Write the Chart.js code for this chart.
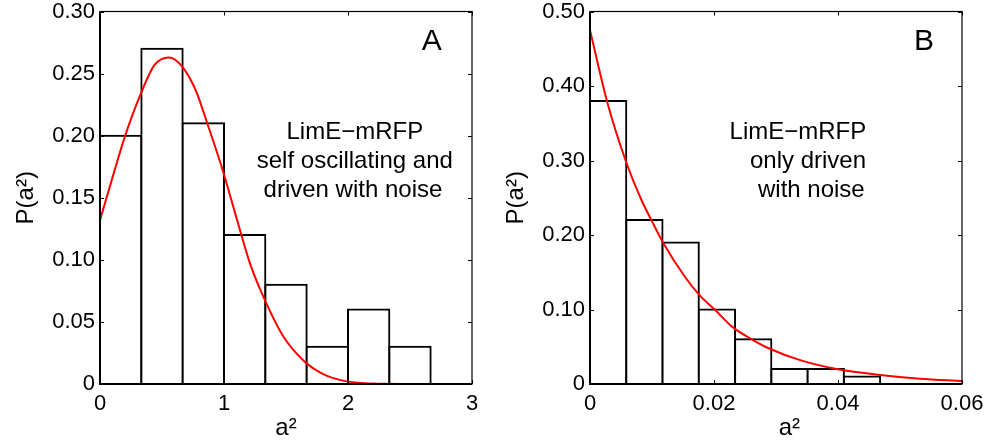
<!DOCTYPE html>
<html>
<head>
<meta charset="utf-8">
<title>P(a²) histograms</title>
<script src="https://cdn.jsdelivr.net/npm/chart.js@4.4.1/dist/chart.umd.min.js"></script>
<style>
  html, body { margin: 0; padding: 0; background: #fff; }
  #wrap { position: relative; width: 989px; height: 443px; overflow: hidden; }
  .panel { position: absolute; top: 0; height: 443px; }
  #panelA { left: 0; width: 494px; }
  #panelB { left: 494px; width: 495px; }
</style>
</head>
<body>
<div id="wrap">
  <div class="panel" id="panelA"><canvas id="chartA"></canvas></div>
  <div class="panel" id="panelB"><canvas id="chartB"></canvas></div>
</div>
<script>
/******************* DATA : PANEL A *******************/
const binCentersA = [0.1667, 0.5, 0.8333, 1.1667, 1.5, 1.8333, 2.1667, 2.5];
const histA = [0.20, 0.27, 0.21, 0.12, 0.08, 0.03, 0.06, 0.03];
const fitXA = [0, 0.1, 0.2, 0.33, 0.44, 0.556, 0.66, 0.77, 0.865, 0.99, 1.06, 1.143, 1.21, 1.31, 1.48, 1.64, 1.80, 1.96, 2.1, 2.3, 2.6, 3.0];
const fitYA = [0.132, 0.166, 0.199, 0.234, 0.257, 0.263, 0.256, 0.237, 0.210, 0.172, 0.148, 0.119, 0.097, 0.072, 0.038, 0.019, 0.008, 0.0027, 0.0008, 0.0002, 0, 0];
const xTicksA = [0, 1, 2, 3];
const xTickLabelsA = ['0', '1', '2', '3'];
const yTicksA = [0, 0.05, 0.10, 0.15, 0.20, 0.25, 0.30];
const yTickLabelsA = ['0', '0.05', '0.10', '0.15', '0.20', '0.25', '0.30'];
const noteA = ['LimE\u2212mRFP', 'self oscillating and', 'driven with noise'];

/******************* DATA : PANEL B *******************/
const binCentersB = [0.002925, 0.008775, 0.014625, 0.020475, 0.026325, 0.032175, 0.038025, 0.043875];
const histB = [0.38, 0.22, 0.19, 0.10, 0.06, 0.02, 0.02, 0.01];
const fitXB = [0, 0.0027, 0.0057, 0.0083, 0.0099, 0.0117, 0.0153, 0.0177, 0.0202, 0.0229, 0.0263, 0.0288, 0.0339, 0.040, 0.0468, 0.0532, 0.06];
const fitYB = [0.475, 0.381, 0.301, 0.247, 0.220, 0.191, 0.144, 0.119, 0.0993, 0.077, 0.059, 0.048, 0.032, 0.0197, 0.012, 0.0071, 0.004];
const xTicksB = [0, 0.02, 0.04, 0.06];
const xTickLabelsB = ['0', '0.02', '0.04', '0.06'];
const yTicksB = [0, 0.10, 0.20, 0.30, 0.40, 0.50];
const yTickLabelsB = ['0', '0.10', '0.20', '0.30', '0.40', '0.50'];
const noteB = ['LimE\u2212mRFP', 'only driven', 'with noise'];

const FONT = '"Liberation Sans", Arial, Helvetica, sans-serif';
Chart.defaults.font.family = FONT;
Chart.defaults.color = '#000';

// Matlab style box: inner ticks on all four sides, panel letter and note
const matlabBox = {
    id: 'matlabBox',
    afterDatasetsDraw(chart, args, opts) {
        let ctx = chart.ctx;
        let a = chart.chartArea;
        let xs = chart.scales.x;
        let ys = chart.scales.y;
        ctx.save();
        ctx.strokeStyle = '#000';
        ctx.lineWidth = 1;
        ctx.beginPath();
        xs.ticks.forEach((t, i) => {
            let px = Math.round(xs.getPixelForTick(i)) + 0.5;
            ctx.moveTo(px, a.bottom); ctx.lineTo(px, a.bottom - 4);
            ctx.moveTo(px, a.top); ctx.lineTo(px, a.top + 4);
        });
        ys.ticks.forEach((t, i) => {
            let py = Math.round(ys.getPixelForTick(i)) + 0.5;
            ctx.moveTo(a.left, py); ctx.lineTo(a.left + 4, py);
            ctx.moveTo(a.right, py); ctx.lineTo(a.right - 4, py);
        });
        ctx.stroke();

        ctx.lineWidth = 1.2;
        ctx.strokeRect(a.left, a.top, a.width, a.height);
        ctx.lineWidth = 2;
        ctx.beginPath();
        ctx.moveTo(a.left, a.top);
        ctx.lineTo(a.left, a.bottom);
        ctx.lineTo(a.right, a.bottom);
        ctx.stroke();

        ctx.fillStyle = '#000';
        ctx.textAlign = 'center';
        ctx.textBaseline = 'alphabetic';
        ctx.font = '30px ' + FONT;
        ctx.fillText(opts.letter, a.left + opts.letterX * a.width, a.top + 38.5);
        ctx.font = '24px ' + FONT;
        opts.lines.forEach((txt, i) => {
            ctx.fillText(txt, a.left + opts.lineX[i] * a.width, a.top + opts.lineY[i]);
        });
        ctx.restore();
    }
};

function makeChart(id, cfg) {
    return new Chart(document.getElementById(id), {
        type: 'bar',
        data: {
            datasets: [{
                type: 'line',
                data: cfg.fitX.map((x, i) => ({ x: x, y: cfg.fitY[i] })),
                borderColor: '#ff0000',
                borderWidth: 2,
                pointRadius: 0,
                fill: false,
                cubicInterpolationMode: 'monotone',
                order: 0
            }, {
                type: 'bar',
                data: cfg.centers.map((x, i) => ({ x: x, y: cfg.hist[i] })),
                backgroundColor: '#ffffff',
                borderColor: '#000',
                borderWidth: 2,
                inflateAmount: 1,
                borderSkipped: 'start',
                barPercentage: 1,
                categoryPercentage: 1,
                order: 1
            }]
        },
        options: {
            responsive: true,
            maintainAspectRatio: false,
            animation: false,
            layout: { padding: { left: 0, right: cfg.padRight, top: 11.5, bottom: 0 } },
            plugins: {
                legend: { display: false },
                tooltip: { enabled: false },
                matlabBox: { letter: cfg.letter, letterX: cfg.letterX, lines: cfg.note, lineX: cfg.noteX, lineY: [127.5, 156.5, 185] }
            },
            scales: {
                x: {
                    type: 'linear',
                    min: cfg.xTicks[0],
                    max: cfg.xTicks[cfg.xTicks.length - 1],
                    offset: false,
                    grid: { display: false, drawTicks: false, offset: false },
                    border: { display: false },
                    afterBuildTicks: (s) => { s.ticks = cfg.xTicks.map(v => ({ value: v })); },
                    afterFit: (s) => { s.height = 59; s.paddingLeft = 0; s.paddingRight = 0; },
                    ticks: {
                        autoSkip: false, maxRotation: 0, padding: 7,
                        font: { size: 22 },
                        callback: (v, i) => cfg.xLabels[i]
                    },
                    title: { display: true, text: cfg.xTitle, font: { size: 24 }, padding: { top: 0, bottom: 0 } }
                },
                y: {
                    min: 0,
                    max: cfg.yTicks[cfg.yTicks.length - 1],
                    grid: { display: false, drawTicks: false },
                    border: { display: false },
                    afterBuildTicks: (s) => { s.ticks = cfg.yTicks.map(v => ({ value: v })); },
                    afterFit: (s) => { s.width = cfg.axisWidth; s.paddingTop = 0; s.paddingBottom = 0; },
                    ticks: {
                        autoSkip: false, padding: 5,
                        font: { size: 22 },
                        callback: (v, i) => cfg.yLabels[i]
                    },
                    title: { display: true, text: 'P(a\u00b2)', font: { size: 24 }, padding: { top: cfg.yTitlePad, bottom: 0 } }
                }
            }
        },
        plugins: [matlabBox]
    });
}

/******************* CHARTS *******************/
let chartA = makeChart('chartA', {
    centers: binCentersA, hist: histA, fitX: fitXA, fitY: fitYA,
    xTicks: xTicksA, xLabels: xTickLabelsA, yTicks: yTicksA, yLabels: yTickLabelsA,
    xTitle: 'a\u00b2', axisWidth: 100, padRight: 22, yTitlePad: 12,
    letter: 'A', letterX: 0.892, note: noteA, noteX: [0.685, 0.685, 0.68]
});

let chartB = makeChart('chartB', {
    centers: binCentersB, hist: histB, fitX: fitXB, fitY: fitYB,
    xTicks: xTicksB, xLabels: xTickLabelsB, yTicks: yTicksB, yLabels: yTickLabelsB,
    xTitle: '    a\u00b2', axisWidth: 96, padRight: 27, yTitlePad: 8,
    letter: 'B', letterX: 0.898, note: noteB, noteX: [0.559, 0.586, 0.595]
});
</script>
</body>
</html>
